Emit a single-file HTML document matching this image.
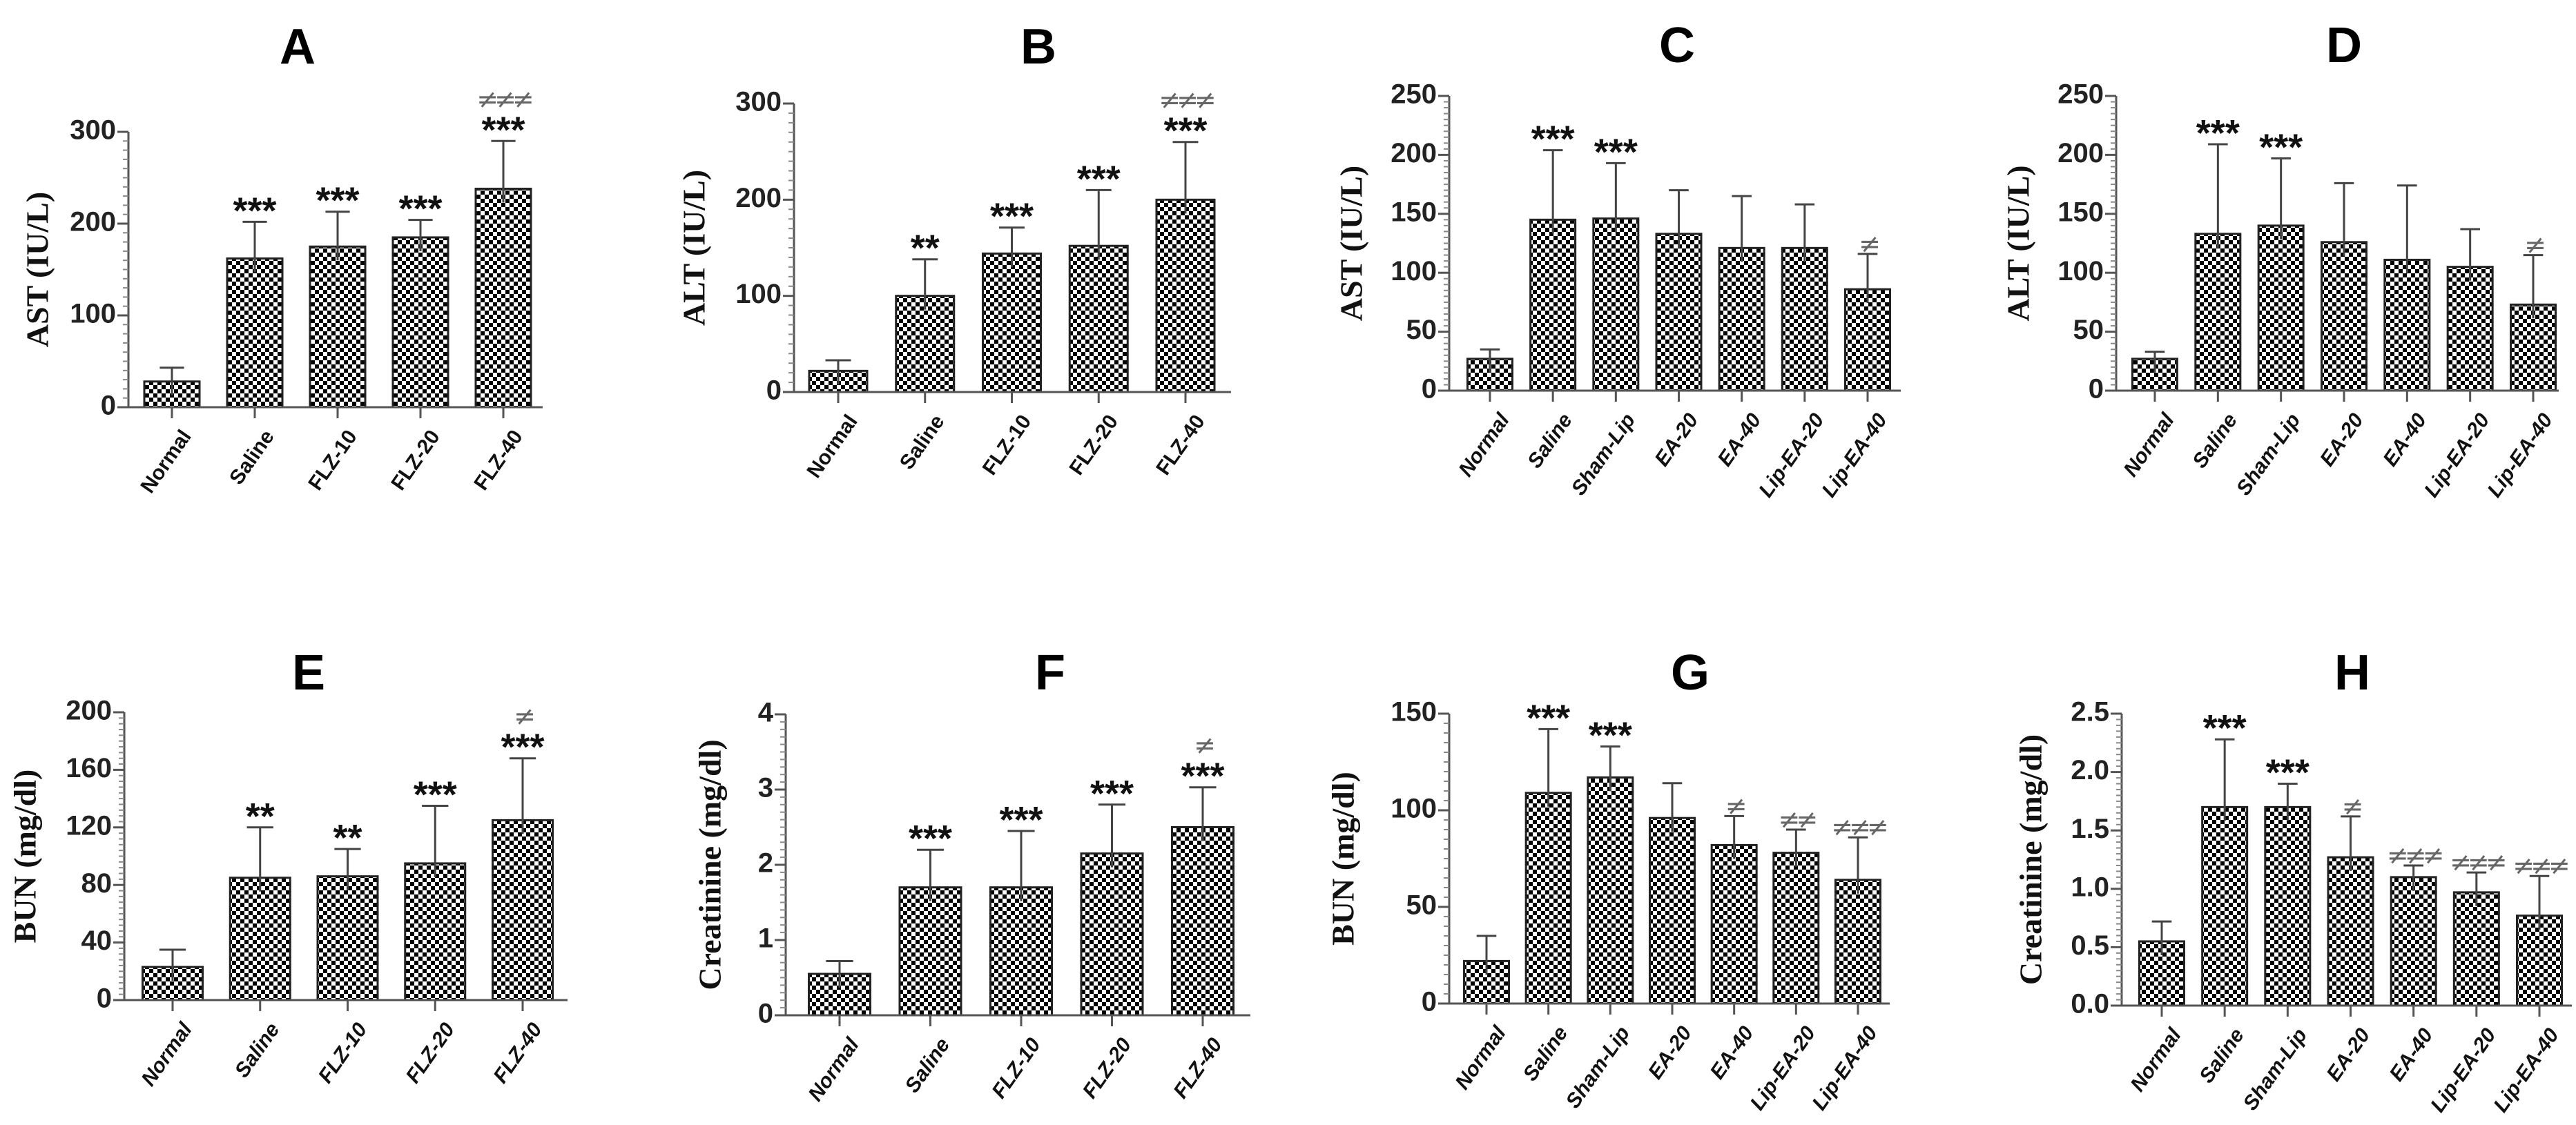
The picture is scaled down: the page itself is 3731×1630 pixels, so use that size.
<!DOCTYPE html>
<html><head><meta charset="utf-8"><style>
html,body{margin:0;padding:0;background:#fff;}
svg{display:block;}
</style></head><body>
<svg id="fig" width="3731" height="1630" viewBox="0 0 3731 1630" xmlns="http://www.w3.org/2000/svg">
<defs>
<pattern id="chk" width="12" height="12" patternUnits="userSpaceOnUse">
<rect width="12" height="12" fill="#fff"/><rect width="6" height="6" fill="#000"/><rect x="6" y="6" width="6" height="6" fill="#000"/>
</pattern>
</defs>
</svg>
<script>
// Panel A
const catsA = ["Normal","Saline","FLZ-10","FLZ-20","FLZ-40"];
const valsA = [28,162,175,185,238];
const errA = [43,202,213,204,290];
const sigA = ["","***","***","***","***"];
const neqA = ["","","","","≠≠≠"];
const ticksA = [0,100,200,300];
// Panel B
const catsB = ["Normal","Saline","FLZ-10","FLZ-20","FLZ-40"];
const valsB = [22,100,144,152,200];
const errB = [33,138,171,210,260];
const sigB = ["","**","***","***","***"];
const neqB = ["","","","","≠≠≠"];
const ticksB = [0,100,200,300];
// Panel C
const catsC = ["Normal","Saline","Sham-Lip","EA-20","EA-40","Lip-EA-20","Lip-EA-40"];
const valsC = [27,145,146,133,121,121,86];
const errC = [35,204,193,170,165,158,116];
const sigC = ["","***","***","","","",""];
const neqC = ["","","","","","","≠"];
const ticksC = [0,50,100,150,200,250];
// Panel D
const catsD = ["Normal","Saline","Sham-Lip","EA-20","EA-40","Lip-EA-20","Lip-EA-40"];
const valsD = [27,133,140,126,111,105,73];
const errD = [33,209,197,176,174,137,115];
const sigD = ["","***","***","","","",""];
const neqD = ["","","","","","","≠"];
const ticksD = [0,50,100,150,200,250];
// Panel E
const catsE = ["Normal","Saline","FLZ-10","FLZ-20","FLZ-40"];
const valsE = [23,85,86,95,125];
const errE = [35,120,105,135,168];
const sigE = ["","**","**","***","***"];
const neqE = ["","","","","≠"];
const ticksE = [0,40,80,120,160,200];
// Panel F
const catsF = ["Normal","Saline","FLZ-10","FLZ-20","FLZ-40"];
const valsF = [0.55,1.7,1.7,2.15,2.5];
const errF = [0.72,2.2,2.45,2.8,3.03];
const sigF = ["","***","***","***","***"];
const neqF = ["","","","","≠"];
const ticksF = [0,1,2,3,4];
// Panel G
const catsG = ["Normal","Saline","Sham-Lip","EA-20","EA-40","Lip-EA-20","Lip-EA-40"];
const valsG = [22,109,117,96,82,78,64];
const errG = [35,142,133,114,97,90,86];
const sigG = ["","***","***","","","",""];
const neqG = ["","","","","≠","≠≠","≠≠≠"];
const ticksG = [0,50,100,150];
// Panel H
const catsH = ["Normal","Saline","Sham-Lip","EA-20","EA-40","Lip-EA-20","Lip-EA-40"];
const valsH = [0.55,1.7,1.7,1.27,1.1,0.97,0.77];
const errH = [0.72,2.28,1.9,1.62,1.2,1.14,1.11];
const sigH = ["","***","***","","","",""];
const neqH = ["","","","≠","≠≠≠","≠≠≠","≠≠≠"];
const ticksH = [0,0.5,1.0,1.5,2.0,2.5];
const tickLabH = ["0.0","0.5","1.0","1.5","2.0","2.5"];

const svg = document.getElementById('fig');
const NS = 'http://www.w3.org/2000/svg';
function mk(tag, attrs, parent){const e=document.createElementNS(NS,tag);for(const k in attrs)e.setAttribute(k,attrs[k]);(parent||svg).appendChild(e);return e;}

function panel(p){
  const g = mk('g',{});
  
  
  const max = p.ticks[p.ticks.length-1];
  const y = v => p.y0 - (v/max)*(p.y0-p.yTop);
  const n = p.cats.length;
  const step = (p.lastX - p.firstX)/(n-1);
  const x = i => p.firstX + i*step;
  const t = mk('text',{x:p.titleX,y:p.titleY,'font-family':'Liberation Sans, sans-serif','font-weight':'bold','font-size':72,'text-anchor':'middle',fill:'#000'},g);
  t.textContent=p.id;
  
  
  const yt = mk('text',{x:0,y:0,transform:`translate(${p.ytX},${(p.y0+p.yTop)/2}) rotate(-90)`,'font-family':'Liberation Serif, serif','font-weight':'bold','font-size':46,'text-anchor':'middle','dominant-baseline':'middle',fill:'#111'},g);
  yt.textContent=p.ytitle;
  
  
  p.vals.forEach((v,i)=>{
    const r = mk('rect',{x:x(i)-p.bw/2,y:y(v),width:p.bw,height:p.y0-y(v),fill:'url(#chk)',stroke:'#222','stroke-width':3},g);
    
    
    const e = p.err[i];
    const eb = mk('path',{d:`M${x(i)},${y(v)+20}V${y(e)}M${x(i)-p.bw*0.22},${y(e)}H${x(i)+p.bw*0.22}`,stroke:'#444','stroke-width':3,fill:'none'},g);
    
    
    let base = y(e)-2;
    if(p.sig[i]){
      const s = mk('text',{x:x(i),y:base+4,'font-family':'Liberation Sans, sans-serif','font-weight':'bold','font-size':54,'text-anchor':'middle',fill:'#111'},g);
      s.textContent=p.sig[i];
      
      
      base -= 46;
    }
    if(p.neq[i]){
      const s = mk('text',{x:x(i),y:base,'font-family':'DejaVu Sans, sans-serif','font-size':38,'text-anchor':'middle',fill:'#666','letter-spacing':-6},g);
      s.textContent=p.neq[i];
      
      
    }
    mk('line',{x1:x(i),x2:x(i),y1:p.y0,y2:p.y0+16,stroke:'#555','stroke-width':3},g);
    const lx = x(i)+12, ly = p.y0+30;
    const lb = mk('text',{x:lx,y:ly,transform:`rotate(-55 ${lx} ${ly})`,'font-family':'Liberation Sans, sans-serif','font-weight':'bold','font-style':p.italic?'italic':'normal','font-size':30,'text-anchor':'end','dominant-baseline':'hanging',fill:'#111'},g);
    lb.textContent=p.cats[i];
    
    
  });
  const ax = mk('path',{d:`M${p.axX},${p.yTop}V${p.y0}H${p.axEnd}`,stroke:'#555','stroke-width':3,fill:'none'},g);
  
  
  for(let k=0;k<p.ticks.length-1;k++){
    for(let m=1;m<10;m++){
      const v = p.ticks[k]+(p.ticks[k+1]-p.ticks[k])*m/10;
      mk('line',{x1:p.axX-8,x2:p.axX,y1:y(v),y2:y(v),stroke:'#888','stroke-width':2},g);
    }
  }
  p.ticks.forEach((tv,k)=>{
    mk('line',{x1:p.axX-16,x2:p.axX,y1:y(tv),y2:y(tv),stroke:'#555','stroke-width':3},g);
    const tl = mk('text',{x:p.axX-18,y:y(tv),'font-family':'Liberation Sans, sans-serif','font-weight':'bold','font-size':40,'text-anchor':'end','dominant-baseline':'middle',fill:'#222'},g);
    tl.textContent = p.tickLab ? p.tickLab[k] : String(tv);
    
    
  });
}

panel({id:'A',cats:catsA,vals:valsA,err:errA,sig:sigA,neq:neqA,ticks:ticksA,ytitle:'AST (IU/L)',axX:186,yTop:191,y0:590,axEnd:786,firstX:249,lastX:729,bw:80,titleX:431,titleY:92,ytX:59,italic:false});
panel({id:'B',cats:catsB,vals:valsB,err:errB,sig:sigB,neq:neqB,ticks:ticksB,ytitle:'ALT (IU/L)',axX:1150,yTop:150,y0:568,axEnd:1783,firstX:1214,lastX:1717,bw:84,titleX:1504,titleY:92,ytX:1010,italic:false});
panel({id:'C',cats:catsC,vals:valsC,err:errC,sig:sigC,neq:neqC,ticks:ticksC,ytitle:'AST (IU/L)',axX:2099,yTop:139,y0:566,axEnd:2753,firstX:2158,lastX:2705,bw:65,titleX:2429,titleY:90,ytX:1962,italic:true});
panel({id:'D',cats:catsD,vals:valsD,err:errD,sig:sigD,neq:neqD,ticks:ticksD,ytitle:'ALT (IU/L)',axX:3065,yTop:139,y0:566,axEnd:3706,firstX:3121,lastX:3669,bw:65,titleX:3395,titleY:90,ytX:2928,italic:true});
panel({id:'E',cats:catsE,vals:valsE,err:errE,sig:sigE,neq:neqE,ticks:ticksE,ytitle:'BUN (mg/dl)',axX:180,yTop:1032,y0:1449,axEnd:822,firstX:250,lastX:757,bw:87,titleX:447,titleY:999,ytX:41,italic:true});
panel({id:'F',cats:catsF,vals:valsF,err:errF,sig:sigF,neq:neqF,ticks:ticksF,ytitle:'Creatinine (mg/dl)',axX:1138,yTop:1035,y0:1471,axEnd:1811,firstX:1216,lastX:1742,bw:89,titleX:1521,titleY:999,ytX:1033,italic:true});
panel({id:'G',cats:catsG,vals:valsG,err:errG,sig:sigG,neq:neqG,ticks:ticksG,ytitle:'BUN (mg/dl)',axX:2099,yTop:1034,y0:1454,axEnd:2737,firstX:2153,lastX:2691,bw:65,titleX:2448,titleY:999,ytX:1950,italic:true});
panel({id:'H',cats:catsH,vals:valsH,err:errH,sig:sigH,neq:neqH,ticks:ticksH,tickLab:tickLabH,ytitle:'Creatinine (mg/dl)',axX:3073,yTop:1034,y0:1457,axEnd:3725,firstX:3131,lastX:3678,bw:65,titleX:3407,titleY:999,ytX:2946,italic:true});
</script>
</body></html>
